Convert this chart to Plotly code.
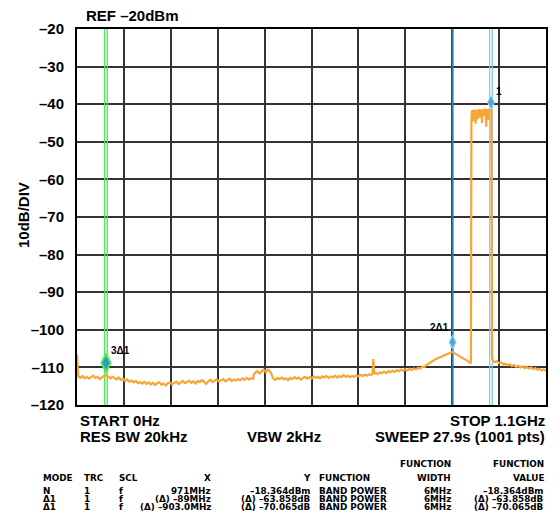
import plotly.graph_objects as go

# ---------------- data ----------------
FREQ_MHZ = [
    0, 1, 3, 8, 13, 18, 23, 28, 33, 38, 43, 48, 53, 58, 63, 68, 73, 78, 83, 88, 93, 98,
    103, 108, 113, 118, 123, 128, 133, 138, 143, 148, 153, 158, 163, 168,
    173, 178, 183, 188, 193, 198, 203, 208, 213, 218, 223, 228, 233, 238, 243, 248,
    253, 258, 263, 268, 273, 278, 283, 288, 293, 298, 303, 308, 313, 318, 323, 328,
    333, 338, 343, 348, 353, 358, 363, 368, 373, 378, 383, 388, 393, 398, 403, 408,
    413, 415, 418, 423, 428, 433, 438, 443, 448, 452, 455,
    460, 465, 470, 475, 480, 485, 490, 495, 500, 505, 510, 515, 520, 525, 530, 535,
    540, 545, 550, 555, 560, 565, 570, 575, 580, 585, 590, 595, 600, 605, 610, 615,
    620, 625, 630, 635, 640, 645, 650, 655, 660, 665, 670, 675, 680, 685, 690, 693,
    695, 697, 700, 705, 710, 715, 720, 725, 730, 735, 740, 745, 750, 755, 760, 765,
    770, 775, 780, 785, 790, 795, 800, 805, 810, 815, 820, 825, 830, 835, 840, 845,
    850, 855, 860, 865, 870, 875, 880, 885, 890, 895, 900, 905, 910, 915, 920, 924,
    925, 926, 928, 930, 931, 933, 935, 936, 938, 940, 941, 943, 945, 946, 948, 950,
    951, 953, 955, 956, 958, 960, 961, 963, 965, 966, 968, 970, 972, 973.5,
    976, 980, 985, 990, 995, 1000, 1005, 1010, 1015, 1020, 1025, 1030, 1035, 1040,
    1045, 1050, 1055, 1060, 1065, 1070, 1075, 1080, 1085, 1090, 1095, 1100,
]
LEVEL_DBM = [
    -106.5, -110.5, -112.4, -112.8, -112.3, -112.9, -112.5, -113.0, -112.6, -112.2, -112.8,
    -112.5, -113.1, -112.6, -112.3, -112.0, -112.4, -112.9, -112.5, -112.8, -113.2, -112.7,
    -113.3, -113.0, -113.6, -113.2, -113.8, -113.5, -114.0, -113.6, -114.2, -113.9, -114.3,
    -113.8, -114.4, -114.0,
    -114.5, -114.1, -114.7, -114.2, -113.9, -114.6, -114.3, -114.8, -114.2, -114.0, -114.5,
    -114.1, -113.8, -114.4, -114.0, -113.6, -114.2, -113.9, -113.5, -114.1, -113.7, -114.3,
    -113.6, -113.9, -113.4, -113.8, -114.4, -113.7, -113.3, -113.9, -113.5, -113.2, -113.8,
    -113.4, -113.1, -113.7, -113.3, -113.0, -113.6, -113.2, -113.5, -113.1, -113.4, -112.9,
    -113.3, -112.8, -113.2, -112.9,
    -113.0, -111.8, -111.4, -111.0, -111.6, -111.2, -110.6, -111.3, -110.6, -111.0, -111.5,
    -112.9, -113.3, -112.8, -113.1, -112.7, -113.2, -112.9, -113.4, -112.8, -113.1, -112.6,
    -113.0, -112.7, -113.3, -112.8, -112.5, -113.0, -112.6, -112.9, -112.4, -112.8, -112.5,
    -112.9, -112.4, -112.7, -112.3, -112.8, -112.4, -112.6, -112.2, -112.7, -112.3, -112.6,
    -112.0, -112.5, -112.2, -112.6, -112.3, -112.5, -112.1, -112.4, -112.0, -112.3, -111.9,
    -112.2, -111.8, -112.0, -111.6,
    -107.8, -111.8, -111.4, -111.8, -111.3, -111.6, -111.1, -111.5, -111.0, -111.3, -110.9,
    -111.2, -110.7, -111.0, -110.6, -110.9, -110.5, -110.8, -110.4, -110.7, -110.3, -110.5,
    -110.1, -110.3, -109.8, -109.9, -109.3, -108.9, -108.5, -108.3, -107.9, -107.6,
    -107.4, -107.0, -106.9, -106.6, -106.4, -106.1, -105.9, -106.2, -106.5, -106.8, -107.2,
    -107.5, -107.9, -108.2, -108.6, -108.9,
    -45.5, -42.0, -41.6, -44.5, -41.8, -41.5, -45.2, -42.0, -41.7, -44.0, -41.6, -41.4,
    -43.5, -41.7, -41.5, -45.0, -41.8, -41.4, -43.0, -41.5, -41.3, -46.0, -41.6, -41.4,
    -44.2, -41.5, -41.3, -41.6, -41.8, -107.5,
    -108.3, -108.6, -108.3, -108.9, -108.7, -109.2, -109.0, -109.5, -109.2, -109.7, -109.4,
    -109.9, -109.6, -110.0, -109.7, -110.2, -109.9, -110.3, -110.0, -110.5, -110.2, -110.6,
    -110.4, -110.8, -110.5, -110.9,
]

Y_TICKS = [-20, -30, -40, -50, -60, -70, -80, -90, -100, -110, -120]
Y_TICK_TEXT = ["–20", "–30", "–40", "–50", "–60", "–70", "–80", "–90", "–100", "–110", "–120"]

MARKER_NAMES = ["1", "2Δ1", "3Δ1"]
MARKER_FREQ_MHZ = [971, 881, 68]
MARKER_LEVEL_DB = [-39.5, -103.3, -108.8]
BAND_WIDTH_MHZ = 6

TABLE_HEADER = ["MODE", "TRC", "SCL", "X", "Y", "FUNCTION", "FUNCTION<br>WIDTH", "FUNCTION<br>VALUE"]
TABLE_ROWS = [
    ["N", "1", "f", "971MHz", "–18.364dBm", "BAND POWER", "6MHz", "–18.364dBm"],
    ["Δ1", "1", "f", "(Δ) –89MHz", "(Δ) –63.858dB", "BAND POWER", "6MHz", "(Δ) –63.858dB"],
    ["Δ1", "1", "f", "(Δ) –903.0MHz", "(Δ) –70.065dB", "BAND POWER", "6MHz", "(Δ) –70.065dB"],
]

# ---------------- layout helpers ----------------
OFF = 8  # the page body margin offsets the figure by this many pixels
W, H = 558 - OFF, 518 - OFF
PL, PR, PT, PB = 77 - OFF, 546 - OFF, 29 - OFF, 405 - OFF


def px(x):
    return (x - OFF - PL) / (PR - PL)


def py(y):
    return (PB - (y - OFF)) / (PB - PT)


FONT = "Liberation Sans, Arial, Helvetica, sans-serif"
TFONT = "DejaVu Sans, Verdana, sans-serif"
ORANGE = "#F8A535"
LIGHT_BLUE = "#7CC8EC"
DARK_BLUE = "#2B7DAA"
GREEN = "#45F045"

fig = go.Figure()

# marker band lines (drawn under the trace)
lo, hi = MARKER_FREQ_MHZ[0] - BAND_WIDTH_MHZ / 2, MARKER_FREQ_MHZ[0] + BAND_WIDTH_MHZ / 2
for f in (lo, hi):
    fig.add_trace(go.Scatter(x=[f, f], y=[-120, -20], mode="lines",
                             line=dict(color=LIGHT_BLUE, width=1.2), hoverinfo="skip"))
fig.add_trace(go.Scatter(x=[MARKER_FREQ_MHZ[1]] * 2, y=[-120, -20], mode="lines",
                         line=dict(color=DARK_BLUE, width=2), hoverinfo="skip"))
lo, hi = MARKER_FREQ_MHZ[2] - BAND_WIDTH_MHZ / 2, MARKER_FREQ_MHZ[2] + BAND_WIDTH_MHZ / 2
for f in (lo, hi):
    fig.add_trace(go.Scatter(x=[f, f], y=[-120, -20], mode="lines",
                             line=dict(color=GREEN, width=1.3), hoverinfo="skip"))

# spectrum trace
fig.add_trace(go.Scatter(x=FREQ_MHZ, y=LEVEL_DBM, mode="lines",
                         line=dict(color=ORANGE, width=2.2), hoverinfo="skip"))

# marker symbols
fig.add_trace(go.Scatter(x=MARKER_FREQ_MHZ[:2], y=MARKER_LEVEL_DB[:2], mode="markers",
                         marker=dict(symbol="diamond-tall", size=10, color="#4FA9DC",
                                     line=dict(color="#A8DDF5", width=1)),
                         hoverinfo="skip"))
fig.add_trace(go.Scatter(x=MARKER_FREQ_MHZ[2:], y=MARKER_LEVEL_DB[2:], mode="markers",
                         marker=dict(symbol="diamond-tall", size=13, color="#3B8FD0",
                                     line=dict(color=GREEN, width=2)),
                         hoverinfo="skip"))

ann = []
# marker labels
ann.append(dict(x=MARKER_FREQ_MHZ[0], y=MARKER_LEVEL_DB[0], xref="x", yref="y",
                text=MARKER_NAMES[0], showarrow=False, xanchor="left", yanchor="middle",
                xshift=3, yshift=11, font=dict(family=FONT, size=10, color="black", weight="bold")))
ann.append(dict(x=MARKER_FREQ_MHZ[1], y=MARKER_LEVEL_DB[1], xref="x", yref="y",
                text=MARKER_NAMES[1], showarrow=False, xanchor="right", yanchor="middle",
                xshift=-2, yshift=15, font=dict(family=FONT, size=10, color="black", weight="bold")))
ann.append(dict(x=MARKER_FREQ_MHZ[2], y=MARKER_LEVEL_DB[2], xref="x", yref="y",
                text=MARKER_NAMES[2], showarrow=False, xanchor="left", yanchor="middle",
                xshift=3, yshift=12, font=dict(family=FONT, size=10, color="black", weight="bold")))

big = dict(family=FONT, size=15, color="black", weight="bold")


def label(text, x, y, anchor="left", font=big):
    ann.append(dict(x=px(x), y=py(y), xref="paper", yref="paper", text=text,
                    showarrow=False, xanchor=anchor, yanchor="middle", font=font))


label("REF –20dBm", 84, 15)
label("START 0Hz", 78, 420)
label("RES BW 20kHz", 78, 437)
label("VBW 2kHz", 245, 437)
label("STOP 1.1GHz", 547, 420, "right")
label("SWEEP 27.9s (1001 pts)", 547, 437, "right")
ann.append(dict(x=px(23), y=py(215), xref="paper", yref="paper", text="10dB/DIV",
                showarrow=False, textangle=-90, xanchor="center", yanchor="middle",
                font=big))

# table
tf = dict(family=TFONT, size=8.8, color="black", weight="bold")
COL_X = [41, 82, 117, 213, 313, 317, 453, 546]
COL_ANCHOR = ["left", "left", "left", "right", "right", "left", "right", "right"]
ROW_Y = [490.6, 498.6, 506.6]
for c, h in enumerate(TABLE_HEADER):
    parts = h.split("<br>")
    if len(parts) == 2:
        label(parts[0], COL_X[c], 464.0, COL_ANCHOR[c], tf)
        label(parts[1], COL_X[c], 477.6, COL_ANCHOR[c], tf)
    else:
        label(parts[0], COL_X[c], 477.6, COL_ANCHOR[c], tf)
for r, row in enumerate(TABLE_ROWS):
    for c, v in enumerate(row):
        label(v, COL_X[c], ROW_Y[r], COL_ANCHOR[c], tf)

fig.update_layout(
    width=W, height=H,
    margin=dict(l=PL, r=W - PR, t=PT, b=H - PB, pad=0, autoexpand=False),
    paper_bgcolor="white", plot_bgcolor="white",
    showlegend=False,
    annotations=ann,
    xaxis=dict(range=[0, 1100], dtick=110, tick0=0, showticklabels=False, automargin=False,
               showgrid=True, gridcolor="#333333", gridwidth=1.7, zeroline=False,
               showline=True, linecolor="black", linewidth=2, mirror=True, ticks=""),
    yaxis=dict(range=[-120, -20], tickvals=Y_TICKS, ticktext=Y_TICK_TEXT, automargin=False,
               showgrid=True, gridcolor="#333333", gridwidth=1.7, zeroline=False,
               showline=True, linecolor="black", linewidth=2, mirror=True,
               ticks="outside", ticklen=8, tickcolor="rgba(0,0,0,0)",
               tickfont=dict(family=FONT, size=15, color="black", weight="bold")),
)

fig.write_html("out.html")
